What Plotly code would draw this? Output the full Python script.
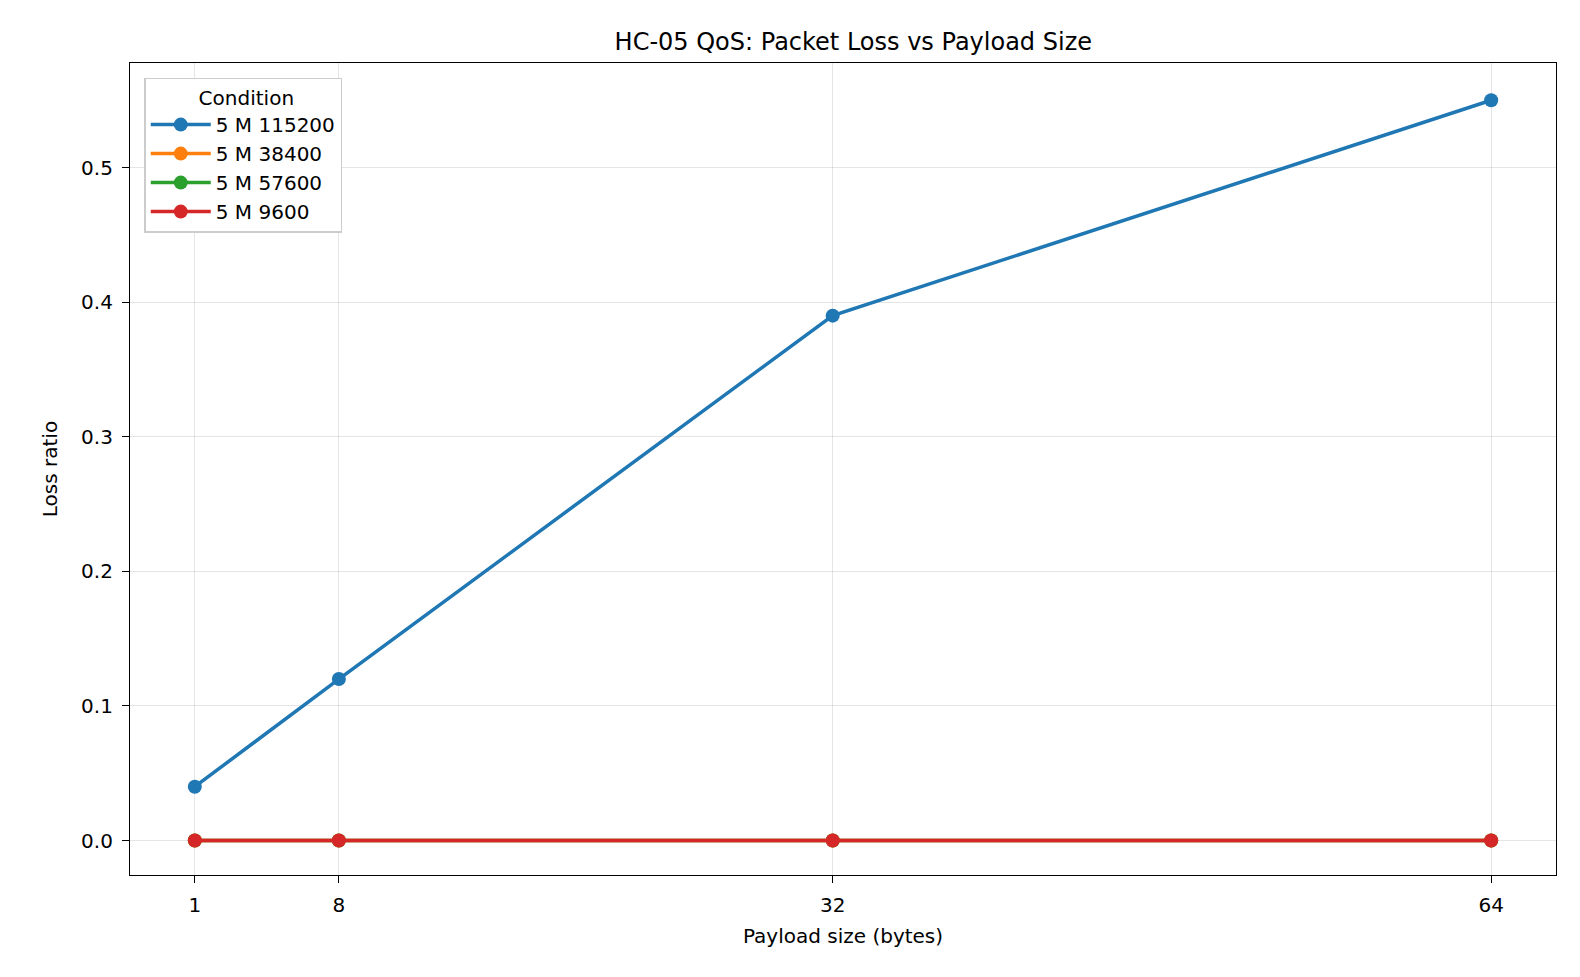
import plotly.graph_objects as go

payload = [1, 8, 32, 64]
series_names = ["5 M 115200", "5 M 38400", "5 M 57600", "5 M 9600"]
loss_115200 = [0.04, 0.12, 0.39, 0.55]
loss_38400 = [0.0, 0.0, 0.0, 0.0]
loss_57600 = [0.0, 0.0, 0.0, 0.0]
loss_9600 = [0.0, 0.0, 0.0, 0.0]
colors = ["#1f77b4", "#ff7f0e", "#2ca02c", "#d62728"]
values = [loss_115200, loss_38400, loss_57600, loss_9600]

fig = go.Figure()
for name, v, c in zip(series_names, values, colors):
    fig.add_trace(go.Scatter(x=payload, y=v, name=name, mode="lines+markers",
                             line=dict(color=c, width=3.5), marker=dict(color=c, size=14)))

axis_common = dict(showline=True, linecolor="black", linewidth=1.2, mirror=True,
                   ticks="outside", ticklen=7, tickcolor="black",
                   showgrid=True, gridcolor="rgba(0,0,0,0.1)", zeroline=False,
                   tickfont=dict(size=20, color="black"), ticklabelstandoff=5)
fig.update_layout(
    width=1580, height=977,
    paper_bgcolor="white", plot_bgcolor="white",
    font=dict(family="DejaVu Sans", color="black"),
    margin=dict(l=122, r=32, t=55, b=110),
    title=dict(text="HC-05 QoS: Packet Loss vs Payload Size", x=0.535, xanchor="center",
               y=0.966, yanchor="middle", font=dict(size=24)),
    xaxis=dict(range=[-2.15, 67.15], tickvals=payload, ticktext=[str(p) for p in payload],
               title=dict(text="Payload size (bytes)", font=dict(size=20), standoff=12), **axis_common),
    yaxis=dict(range=[-0.0256, 0.5777], tickvals=[0, 0.1, 0.2, 0.3, 0.4, 0.5],
               tickformat=".1f", title=dict(text="Loss ratio", font=dict(size=20), standoff=18), **axis_common),
    legend=dict(x=0.01, y=0.982, xanchor="left", yanchor="top",
                bordercolor="#cccccc", borderwidth=1.5, bgcolor="white",
                title=dict(text="        Condition", font=dict(size=20)),
                font=dict(size=20), tracegroupgap=0, itemwidth=60),
    showlegend=True,
)
fig.write_html("out.html")
